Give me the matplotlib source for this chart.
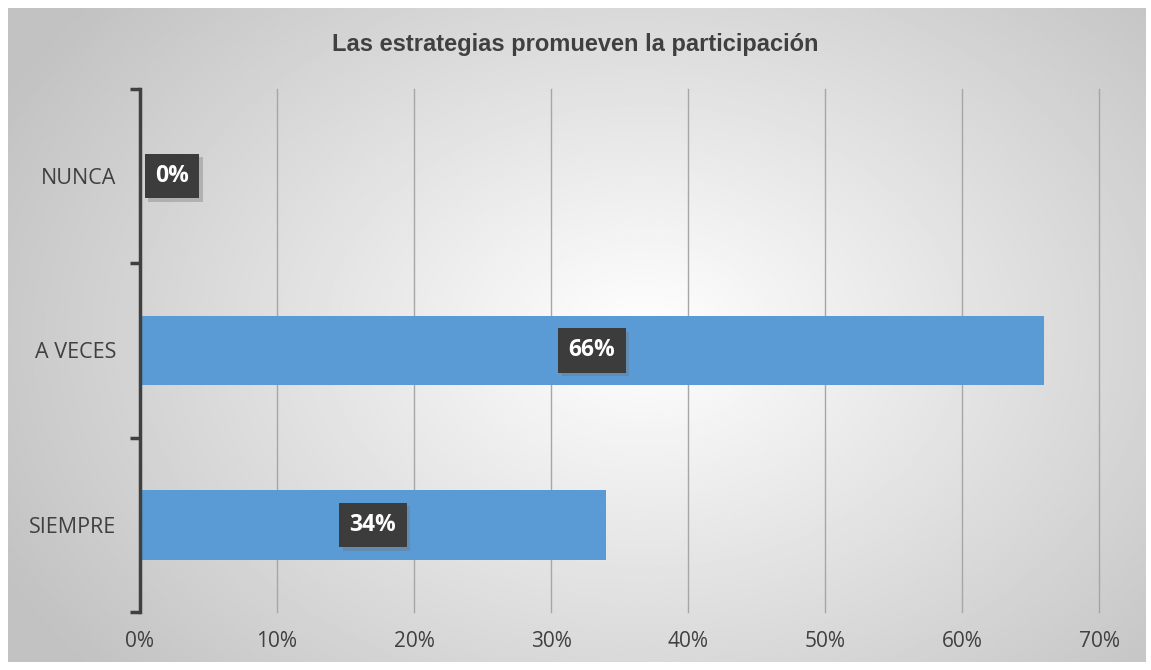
import numpy as np
import matplotlib.pyplot as plt
import matplotlib.patheffects as pe

categories = ['SIEMPRE', 'A VECES', 'NUNCA']
values = [34, 66, 0]
x_ticks = [0, 10, 20, 30, 40, 50, 60, 70]
title = 'Las estrategias promueven la participación'

bar_color = '#5B9BD5'
text_color = '#404040'

fig = plt.figure(figsize=(11.51, 6.70), dpi=100)
fig.patch.set_facecolor('white')

# radial gradient behind the chart area
bg = fig.add_axes([8 / 1151, 8 / 670, 1138 / 1151, 654 / 670])
yy, xx = np.mgrid[0:300, 0:520]
r = np.sqrt(((xx - 290) / 330.0) ** 2 + ((yy - 150) / 240.0) ** 2)
shade = np.clip(1.0 - 0.24 * r, 0.76, 1.0)
bg.imshow(shade, cmap='gray', vmin=0, vmax=1, aspect='auto',
          extent=[0, 1, 0, 1], interpolation='bilinear')
bg.set_axis_off()

ax = fig.add_axes([140 / 1151, 58 / 670, 959 / 1151, 523 / 670])
ax.patch.set_alpha(0)

ypos = np.arange(len(categories))
ax.barh(ypos, values, height=0.4, color=bar_color, zorder=2)

ax.set_xlim(0, 70)
ax.set_ylim(-0.5, len(categories) - 0.5)
ax.set_xticks(x_ticks)
ax.set_xticklabels([f'{v}%' for v in x_ticks])
ax.set_yticks(ypos)
ax.set_yticklabels(categories)
ax.set_yticks(np.arange(-0.5, len(categories)), minor=True)

# vertical gridlines, drawn unclipped so the last one shows in full
for v in x_ticks[1:]:
    ax.axvline(v, color='#A6A6A6', linewidth=1.0, zorder=0, clip_on=False)

for s in ['top', 'right', 'bottom']:
    ax.spines[s].set_visible(False)
ax.spines['left'].set_color(text_color)
ax.spines['left'].set_linewidth(2.5)
ax.spines['left'].set_zorder(3)

ax.tick_params(axis='x', length=0, pad=14, labelsize=15, labelcolor=text_color)
ax.tick_params(axis='y', which='major', length=0, pad=17, labelsize=15.5,
               labelcolor=text_color)
ax.tick_params(axis='y', which='minor', length=7, width=2.5, color=text_color,
               direction='out')
for lbl in ax.get_xticklabels() + ax.get_yticklabels():
    lbl.set_fontfamily('Open Sans')

# value labels in dark boxes
for y, v in zip(ypos, values):
    if v > 0:
        x, ha = v / 2, 'center'
    else:
        x, ha = 1.1, 'left'
    t = ax.text(x, y, f'{v}%', ha=ha, va='center', color='white',
                fontsize=16.5, fontweight='bold', family='Open Sans', zorder=5,
                bbox=dict(boxstyle='square,pad=0.45', facecolor='#3C3C3C',
                          edgecolor='none'))
    t.get_bbox_patch().set_path_effects(
        [pe.withSimplePatchShadow(offset=(2.5, -2.5), shadow_rgbFace='#6E6E6E',
                                  alpha=0.35)])

fig.text(575 / 1151, 1 - 45 / 670, title, ha='center', va='center',
         fontsize=17, fontweight='bold', color=text_color,
         family='Liberation Sans')

fig.savefig('out.png', dpi=100)
